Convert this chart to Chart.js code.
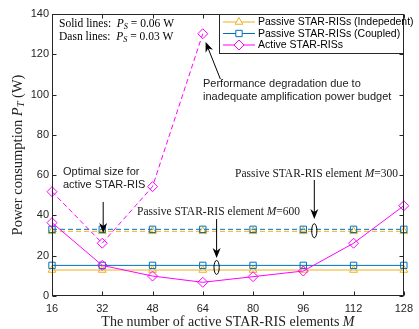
<!DOCTYPE html>
<html>
<head>
<meta charset="utf-8">
<script src="https://cdn.jsdelivr.net/npm/chart.js@4.4.1/dist/chart.umd.min.js"></script>
<style>
html, body { margin: 0; padding: 0; background: #fff; }
#wrap { width: 419px; height: 329px; }
</style>
</head>
<body>
<div id="wrap"><canvas id="graph"></canvas></div>
<script>
// number of active STAR-RIS elements M
const elements = [16, 32, 48, 64, 80, 96, 112, 128];
// solid lines: P_S = 0.06 W
const independentSolid = [12.9, 12.9, 12.9, 12.9, 12.9, 12.9, 12.9, 12.9];
const coupledSolid = [15.2, 15.2, 15.2, 15.2, 15.2, 15.2, 15.2, 15.2];
const activeSolid = [36.4, 15.2, 9.9, 6.8, 9.6, 12.4, 26.2, 44.8];
// dashed lines: P_S = 0.03 W
const independentDashed = [32.1, 32.1, 32.1, 32.1, 32.1, 32.1, 32.1, 32.1];
const coupledDashed = [33.1, 33.1, 33.1, 33.1, 33.1, 33.1, 33.1, 33.1];
const activeDashed = [51.8, 26.2, 54.3, 130.2];
const yTicks = [0, 20, 40, 60, 80, 100, 120, 140];

const ORANGE = '#EDB120';
const BLUE = '#0072BD';
const MAGENTA = '#FF00FF';
const AXIS = '#262626';
const SANS = '"Liberation Sans", Arial, sans-serif';
const SERIF = '"Liberation Serif", "Times New Roman", serif';

function pairs(ys) {
    return ys.map((y, i) => ({ x: elements[i], y: y }));
}

function series(label, ys, color, marker, dashed) {
    return {
        label: label,
        data: pairs(ys),
        borderColor: color,
        backgroundColor: 'rgba(0,0,0,0)',
        borderWidth: 1,
        borderDash: dashed ? [5, 3] : [],
        pointStyle: marker,
        pointRadius: marker === 'rectRot' ? 5 : 4.5,
        pointBorderWidth: 1,
        pointBorderColor: color,
        pointBackgroundColor: 'rgba(0,0,0,0)',
        tension: 0,
        clip: false,
        showInLegend: !dashed
    };
}

// draw a run of text pieces; italic pieces use the serif italic, sub pieces are lowered
function drawRich(ctx, parts, x, y, size, align) {
    const fontOf = p => (p.it ? 'italic ' : '') + (p.sub ? size * 0.72 : size) + 'px ' + SERIF;
    let total = 0;
    parts.forEach(p => { ctx.font = fontOf(p); total += ctx.measureText(p.t).width; });
    let cx = align === 'center' ? x - total / 2 : x;
    ctx.textAlign = 'left';
    ctx.textBaseline = 'middle';
    parts.forEach(p => {
        ctx.font = fontOf(p);
        ctx.fillText(p.t, cx, p.sub ? y + size * 0.25 : y);
        cx += ctx.measureText(p.t).width;
    });
}

function arrow(ctx, x1, y1, x2, y2) {
    const ang = Math.atan2(y2 - y1, x2 - x1);
    const len = 10, half = 4;
    ctx.strokeStyle = '#000';
    ctx.lineWidth = 1;
    ctx.beginPath();
    ctx.moveTo(x1, y1);
    ctx.lineTo(x2 - Math.cos(ang) * len * 0.6, y2 - Math.sin(ang) * len * 0.6);
    ctx.stroke();
    ctx.save();
    ctx.translate(x2, y2);
    ctx.rotate(ang);
    ctx.fillStyle = '#000';
    ctx.beginPath();
    ctx.moveTo(0, 0);
    ctx.lineTo(-len, -half);
    ctx.lineTo(-len * 0.7, 0);
    ctx.lineTo(-len, half);
    ctx.closePath();
    ctx.fill();
    ctx.restore();
}

const decorPlugin = {
    id: 'decor',
    afterDatasetsDraw(chart) {
        const ctx = chart.ctx;
        const a = chart.chartArea;
        const xs = chart.scales.x, ys = chart.scales.y;
        const L = Math.round(a.left) + 0.5, R = Math.round(a.right) - 0.5;
        const T = Math.round(a.top) + 0.5, B = Math.round(a.bottom) - 0.5;
        ctx.save();
        // box and inner ticks
        ctx.strokeStyle = AXIS;
        ctx.lineWidth = 1;
        ctx.strokeRect(L, T, R - L, B - T);
        ctx.beginPath();
        yTicks.forEach(v => {
            const py = Math.round(ys.getPixelForValue(v)) + 0.5;
            ctx.moveTo(L, py); ctx.lineTo(L + 4, py);
            ctx.moveTo(R, py); ctx.lineTo(R - 4, py);
        });
        elements.forEach(v => {
            const px = Math.round(xs.getPixelForValue(v)) + 0.5;
            ctx.moveTo(px, B); ctx.lineTo(px, B - 4);
            ctx.moveTo(px, T); ctx.lineTo(px, T + 4);
        });
        ctx.stroke();

        const P = (x, y) => [xs.getPixelForValue(x), ys.getPixelForValue(y)];

        // annotations
        ctx.fillStyle = '#000';
        drawRich(ctx, [{ t: 'Solid lines:  ' }, { t: 'P', it: true }, { t: 'S', it: true, sub: true }, { t: ' = 0.06 W' }], 59, 24, 11.5);
        drawRich(ctx, [{ t: 'Dasn lines:  ' }, { t: 'P', it: true }, { t: 'S', it: true, sub: true }, { t: ' = 0.03 W' }], 59, 37, 11.5);

        ctx.font = '11px ' + SANS;
        ctx.fillStyle = '#1a1a1a';
        ctx.textAlign = 'left';
        ctx.textBaseline = 'middle';
        ctx.fillText('Performance degradation due to', 203, 84);
        ctx.fillText('inadequate amplification power budget', 203, 97);
        ctx.fillText('Optimal size for', 63, 172);
        ctx.fillText('active STAR-RIS', 63, 185);

        ctx.fillStyle = '#1a1a1a';
        drawRich(ctx, [{ t: 'Passive STAR-RIS element ' }, { t: 'M', it: true }, { t: '=600' }], 137, 212, 11.5);
        drawRich(ctx, [{ t: 'Passive STAR-RIS element ' }, { t: 'M', it: true }, { t: '=300' }], 235, 174, 11.5);

        let p1 = P(69.6, 107.7), p2 = P(64.9, 126.1);
        arrow(ctx, p1[0], p1[1], p2[0], p2[1]);
        p1 = P(32.3, 46.7); p2 = P(32.3, 31.3);
        arrow(ctx, p1[0], p1[1], p2[0], p2[1]);
        p1 = P(68.4, 38.2); p2 = P(68.4, 18.9);
        arrow(ctx, p1[0], p1[1], p2[0], p2[1]);
        p1 = P(99.5, 57.6); p2 = P(99.5, 38.2);
        arrow(ctx, p1[0], p1[1], p2[0], p2[1]);

        ctx.strokeStyle = '#000';
        ctx.lineWidth = 1;
        [[68.4, 14.2], [99.5, 32.4]].forEach(c => {
            const q = P(c[0], c[1]);
            ctx.beginPath();
            ctx.ellipse(q[0], q[1], 2.6, 7, 0, 0, Math.PI * 2);
            ctx.stroke();
        });

        // legend
        const lx = 219.5, ly = 14.5, lw = R - lx, lh = 39;
        ctx.fillStyle = '#fff';
        ctx.fillRect(lx, ly, lw, lh);
        ctx.strokeStyle = AXIS;
        ctx.strokeRect(lx, ly, lw, lh);
        const shown = chart.data.datasets.filter(d => d.showInLegend);
        shown.forEach((d, i) => {
            const yy = 22 + i * 11.5;
            ctx.strokeStyle = d.borderColor;
            ctx.lineWidth = 1;
            ctx.beginPath();
            ctx.moveTo(223, yy); ctx.lineTo(255, yy);
            ctx.stroke();
            ctx.fillStyle = '#fff';
            Chart.helpers.drawPoint(ctx, {
                pointStyle: d.pointStyle, radius: d.pointRadius, borderWidth: 1
            }, 239, yy);
            ctx.fillStyle = '#000';
            ctx.font = '10.5px ' + SANS;
            ctx.textAlign = 'left';
            ctx.textBaseline = 'middle';
            ctx.fillText(d.label, 258, yy + 0.5);
        });

        // axis titles
        ctx.fillStyle = '#222';
        drawRich(ctx, [{ t: 'The number of active STAR-RIS elements ' }, { t: 'M', it: true }], (a.left + a.right) / 2, 322, 14, 'center');
        ctx.translate(18, (a.top + a.bottom) / 2);
        ctx.rotate(-Math.PI / 2);
        drawRich(ctx, [{ t: 'Power consumption ' }, { t: 'P', it: true }, { t: 'T', it: true, sub: true }, { t: ' (W)' }], 0, 0, 14.5, 'center');
        ctx.restore();
    }
};

// draw order: orange under blue under magenta
const datasets = [
    series('', independentDashed, ORANGE, 'triangle', true),
    series('', coupledDashed, BLUE, 'rect', true),
    series('', activeDashed, MAGENTA, 'rectRot', true),
    series('Passive STAR-RISs (Indepedent)', independentSolid, ORANGE, 'triangle', false),
    series('Passive STAR-RISs (Coupled)', coupledSolid, BLUE, 'rect', false),
    series('Active STAR-RISs', activeSolid, MAGENTA, 'rectRot', false)
];
datasets.forEach((d, i) => { d.order = 6 - i; });

new Chart(document.getElementById('graph'), {
    type: 'line',
    data: { datasets: datasets },
    options: {
        responsive: true,
        maintainAspectRatio: false,
        animation: false,
        layout: { padding: { top: 14, right: 10, left: 0, bottom: 0 } },
        plugins: { legend: { display: false }, tooltip: { enabled: false } },
        scales: {
            x: {
                type: 'linear',
                min: 16, max: 128,
                ticks: { stepSize: 16, color: AXIS, font: { family: SANS, size: 11 }, padding: 6 },
                grid: { display: false, drawTicks: false },
                border: { display: false },
                afterFit(s) { s.height = 33; }
            },
            y: {
                min: 0, max: 140,
                ticks: { stepSize: 20, color: AXIS, font: { family: SANS, size: 11 }, padding: 3 },
                grid: { display: false, drawTicks: false },
                border: { display: false },
                afterFit(s) { s.width = 52; }
            }
        }
    },
    plugins: [decorPlugin]
});
</script>
</body>
</html>
